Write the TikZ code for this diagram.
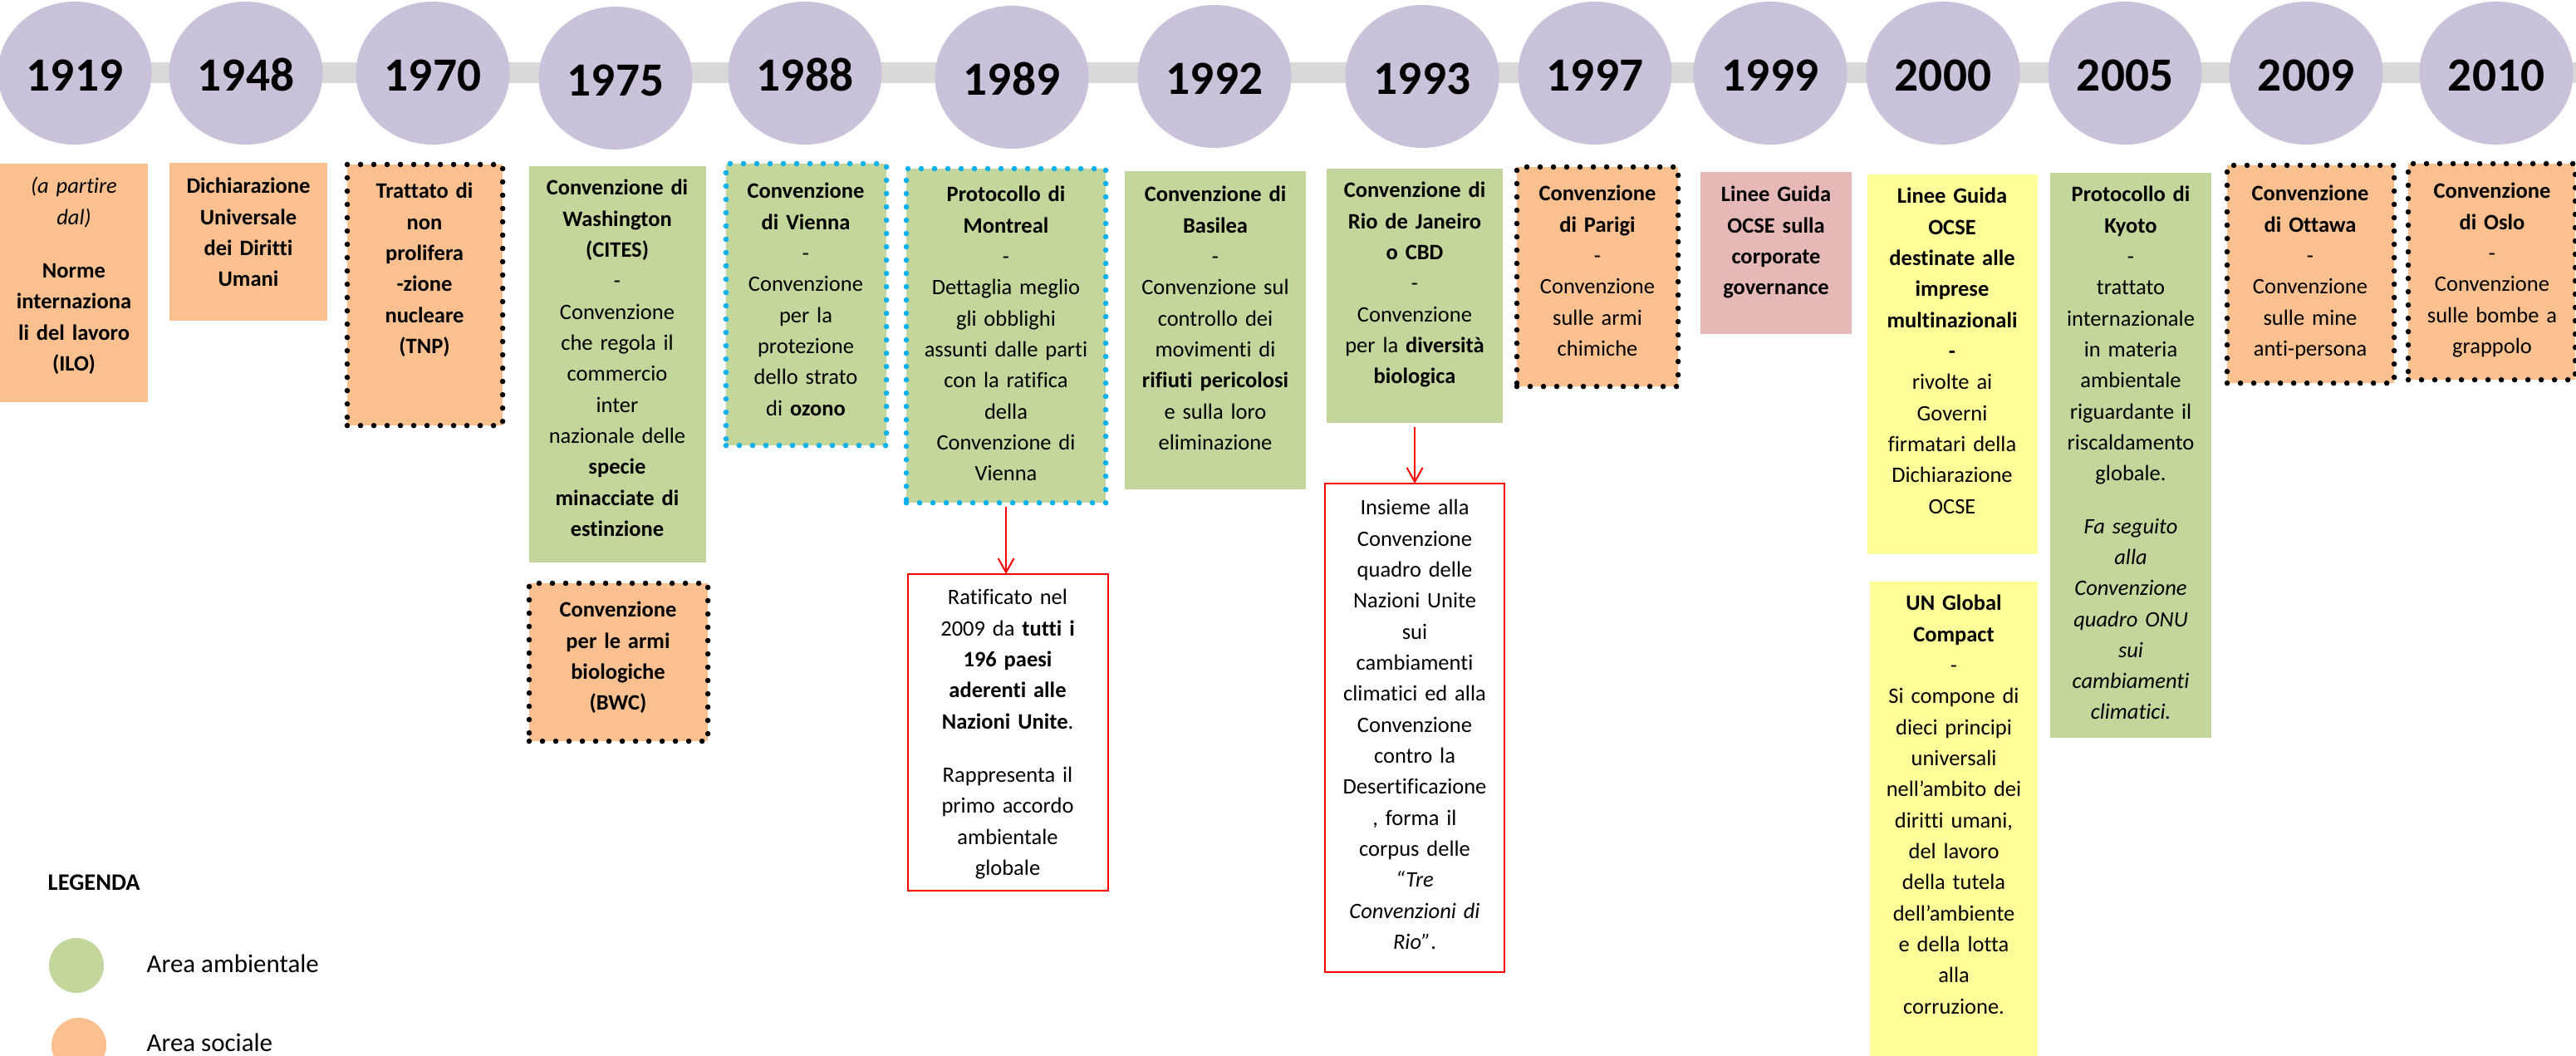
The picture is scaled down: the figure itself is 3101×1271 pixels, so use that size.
\documentclass[tikz,border=0pt]{standalone}
\usepackage{fontspec}
\setmainfont{Carlito}[Ligatures={NoCommon}]
\usetikzlibrary{shapes.geometric,arrows.meta}

\definecolor{lilla}{HTML}{CCC1DA}
\definecolor{barra}{HTML}{D9D9D9}
\definecolor{ambiente}{HTML}{C3D69B}
\definecolor{sociale}{HTML}{FAC090}
\definecolor{governance}{HTML}{E6B9B8}
\definecolor{imprese}{HTML}{FFFF99}
\definecolor{azzurro}{HTML}{00B0F0}

\tikzset{
  anno/.style={ellipse, fill=lilla, minimum width=1.85cm, minimum height=1.72cm, inner sep=0pt,
    font=\bfseries\fontsize{16.3}{18}\selectfont, text height=0.44cm, text depth=0pt},
  riquadro/.style={rectangle, anchor=north west, inner sep=0pt, outer sep=0pt},
  verde/.style={riquadro, fill=ambiente},
  arancio/.style={riquadro, fill=sociale},
  rosa/.style={riquadro, fill=governance},
  giallo/.style={riquadro, fill=imprese},
  puntini/.style={draw=#1, line width=0.065cm, line cap=round, dash pattern=on 0pt off 0.16cm},
  nota/.style={riquadro, draw=red, line width=0.02cm, fill=white},
  testo/.style={anchor=base, text width=2.4cm, align=center, inner sep=0pt,
    font=\fontsize{7.54}{10.61}\selectfont},
  freccia/.style={draw=red, line width=0.02cm, shorten <=0.05cm,
    -{Straight Barb[length=0.17cm, width=0.19cm]}},
}

\begin{document}
\begin{tikzpicture}[x=0.01cm, y=-0.01cm]

  \useasboundingbox (0,0) rectangle (3101,1271);

  % linea del tempo
  \coordinate (inizio) at (0,88);
  \coordinate (fine) at (3101,88);
  \draw[barra, line width=0.25cm] (inizio) -- (fine);

  \node[anno] (a1919) at (90,88) {1919};
  \node[anno] (a1948) at (296,88) {1948};
  \node[anno] (a1970) at (521,88) {1970};
  \node[anno] (a1975) at (741,94) {1975};
  \node[anno] (a1988) at (969,88) {1988};
  \node[anno] (a1989) at (1218,93) {1989};
  \node[anno] (a1992) at (1462,92) {1992};
  \node[anno] (a1993) at (1712,92) {1993};
  \node[anno] (a1997) at (1920,88) {1997};
  \node[anno] (a1999) at (2131,88) {1999};
  \node[anno] (a2000) at (2339,88) {2000};
  \node[anno] (a2005) at (2558,88) {2005};
  \node[anno] (a2009) at (2776,88) {2009};
  \node[anno] (a2010) at (3005,88) {2010};

  % riquadri
  \node[arancio, minimum width=1.78cm, minimum height=2.87cm] (b1919) at (0,197) {};
  \node[arancio, minimum width=1.90cm, minimum height=1.90cm] (b1948) at (204,196) {};
  \node[arancio, puntini=black, minimum width=1.87cm, minimum height=3.14cm] (b1970) at (418,198) {};
  \node[verde, minimum width=2.13cm, minimum height=4.77cm] (b1975) at (637,200) {};
  \node[arancio, puntini=black, minimum width=2.15cm, minimum height=1.90cm] (b1975b) at (637,702) {};
  \node[verde, puntini=azzurro, minimum width=1.93cm, minimum height=3.39cm] (b1988) at (874,197) {};
  \node[verde, puntini=azzurro, minimum width=2.40cm, minimum height=4.02cm] (b1989) at (1091,203) {};
  \node[nota, minimum width=2.41cm, minimum height=3.81cm] (n1989) at (1093,691) {};
  \node[verde, minimum width=2.18cm, minimum height=3.83cm] (b1992) at (1354,206) {};
  \node[verde, minimum width=2.12cm, minimum height=3.06cm] (b1993) at (1597,203) {};
  \node[nota, minimum width=2.16cm, minimum height=5.88cm] (n1993) at (1595,582) {};
  \node[arancio, puntini=black, minimum width=1.94cm, minimum height=2.64cm] (b1997) at (1826,201) {};
  \node[rosa, minimum width=1.82cm, minimum height=1.95cm] (b1999) at (2047,207) {};
  \node[giallo, minimum width=2.05cm, minimum height=4.57cm] (b2000) at (2248,210) {};
  \node[giallo, minimum width=2.02cm, minimum height=5.90cm] (b2000b) at (2251,700) {};
  \node[verde, minimum width=1.94cm, minimum height=6.80cm] (b2005) at (2468,208) {};
  \node[arancio, puntini=black, minimum width=2.01cm, minimum height=2.62cm] (b2009) at (2681,199) {};
  \node[arancio, puntini=black, minimum width=2.01cm, minimum height=2.60cm] (b2010) at (2899,197) {};

  % testi
  \node[testo] (t1919) at (89,233) {\textit{(a partire}\\\textit{dal)}\\[0.27cm]\textbf{Norme}\\\textbf{internaziona}\\\textbf{li del lavoro}\\\textbf{(ILO)}};
  \node[testo] (t1948) at (299,233) {\bfseries Dichiarazione\\Universale\\dei Diritti\\Umani};
  \node[testo] (t1970) at (511,239) {\bfseries Trattato di\\non\\prolifera\\-zione\\nucleare\\(TNP)};
  \node[testo] (t1975) at (743,235) {\textbf{Convenzione di}\\\textbf{Washington}\\\textbf{(CITES)}\\-\\Convenzione\\che regola il\\commercio\\inter\\nazionale delle\\\textbf{specie}\\\textbf{minacciate di}\\\textbf{estinzione}};
  \node[testo] (t1975b) at (744,743) {\bfseries Convenzione\\per le armi\\biologiche\\(BWC)};
  \node[testo] (t1988) at (970,239) {\textbf{Convenzione}\\\textbf{di Vienna}\\-\\Convenzione\\per la\\protezione\\dello strato\\di \textbf{ozono}};
  \node[testo] (t1989) at (1211,243) {\textbf{Protocollo di}\\\textbf{Montreal}\\-\\Dettaglia meglio\\gli obblighi\\assunti dalle parti\\con la ratifica\\della\\Convenzione di\\Vienna};
  \node[testo] (tn1989) at (1213,728) {Ratificato nel\\2009 da \textbf{tutti i}\\\textbf{196 paesi}\\\textbf{aderenti alle}\\\textbf{Nazioni Unite}.\\[0.27cm]Rappresenta il\\primo accordo\\ambientale\\globale};
  \node[testo] (t1992) at (1463,243) {\textbf{Convenzione di}\\\textbf{Basilea}\\-\\Convenzione sul\\controllo dei\\movimenti di\\\textbf{rifiuti pericolosi}\\e sulla loro\\eliminazione};
  \node[testo] (t1993) at (1703,238) {\textbf{Convenzione di}\\\textbf{Rio de Janeiro}\\\textbf{o CBD}\\-\\Convenzione\\per la \textbf{diversità}\\\textbf{biologica}};
  \node[testo] (tn1993) at (1703,620) {Insieme alla\\Convenzione\\quadro delle\\Nazioni Unite\\sui\\cambiamenti\\climatici ed alla\\Convenzione\\contro la\\Desertificazione\\, forma il\\corpus delle\\\textit{“Tre}\\\textit{Convenzioni di}\\\textit{Rio”}.};
  \node[testo] (t1997) at (1923,242) {\textbf{Convenzione}\\\textbf{di Parigi}\\-\\Convenzione\\sulle armi\\chimiche};
  \node[testo] (t1999) at (2138,243) {\bfseries Linee Guida\\OCSE sulla\\corporate\\governance};
  \node[testo] (t2000) at (2350,245) {\textbf{Linee Guida}\\\textbf{OCSE}\\\textbf{destinate alle}\\\textbf{imprese}\\\textbf{multinazionali}\\\textbf{-}\\rivolte ai\\Governi\\firmatari della\\Dichiarazione\\OCSE};
  \node[testo] (t2000b) at (2352,735) {\textbf{UN Global}\\\textbf{Compact}\\-\\Si compone di\\dieci principi\\universali\\nell'ambito dei\\diritti umani,\\del lavoro\\della tutela\\dell'ambiente\\e della lotta\\alla\\corruzione.};
  \node[testo] (t2005) at (2565,243) {\textbf{Protocollo di}\\\textbf{Kyoto}\\-\\trattato\\internazionale\\in materia\\ambientale\\riguardante il\\riscaldamento\\globale.\\[0.26cm]\textit{Fa seguito}\\\textit{alla}\\\textit{Convenzione}\\\textit{quadro ONU}\\\textit{sui}\\\textit{cambiamenti}\\\textit{climatici.}};
  \node[testo] (t2009) at (2781,242) {\textbf{Convenzione}\\\textbf{di Ottawa}\\-\\Convenzione\\sulle mine\\anti-persona};
  \node[testo] (t2010) at (3000,239) {\textbf{Convenzione}\\\textbf{di Oslo}\\-\\Convenzione\\sulle bombe a\\grappolo};

  % frecce verso le note
  \draw[freccia] (b1989.south) -- (b1989.south |- n1989.north);
  \draw[freccia] (b1993.south) -- (b1993.south |- n1993.north);

  % legenda
  \node[anchor=base west, inner sep=0pt, font=\bfseries\fontsize{8.1}{10}\selectfont] (legenda) at (57,1071) {LEGENDA};
  \node[circle, fill=ambiente, minimum size=0.66cm, inner sep=0pt] (lamb) at (92,1162) {};
  \node[circle, fill=sociale, minimum size=0.66cm, inner sep=0pt] (lsoc) at (95,1258) {};
  \node[anchor=base west, inner sep=0pt, font=\fontsize{8.8}{10}\selectfont] (tamb) at (176,1170) {Area ambientale};
  \node[anchor=base west, inner sep=0pt, font=\fontsize{8.8}{10}\selectfont] (tsoc) at (176,1265) {Area sociale};

\end{tikzpicture}
\end{document}
